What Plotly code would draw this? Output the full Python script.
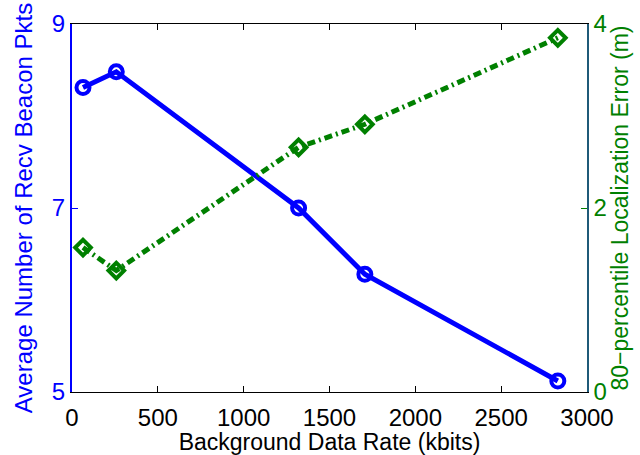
import plotly.graph_objects as go

rate = [64, 258, 1320, 1706, 2830]
beacon_pkts = [8.31, 8.48, 7.0, 6.28, 5.12]
loc_error = [1.57, 1.32, 2.66, 2.91, 3.85]

x_ticks = [0, 500, 1000, 1500, 2000, 2500, 3000]
y1_ticks = [5, 7, 9]
y2_ticks = [0, 2, 4]

BLUE = "#0000ff"
GREEN = "#008000"
FONT = "Liberation Sans, Arial, sans-serif"

fig = go.Figure()
fig.add_trace(go.Scatter(
    x=rate, y=beacon_pkts, mode="lines+markers",
    line=dict(color=BLUE, width=5),
    marker=dict(symbol="circle-open", size=13, color=BLUE, line=dict(width=4, color=BLUE)),
    yaxis="y", showlegend=False,
))
fig.add_trace(go.Scatter(
    x=rate, y=loc_error, mode="lines+markers",
    line=dict(color=GREEN, width=5, dash="8px,4px,2px,4px"),
    marker=dict(symbol="diamond-open", size=12, color=GREEN, line=dict(width=4, color=GREEN)),
    yaxis="y2", showlegend=False,
))

fig.update_layout(
    width=640, height=455,
    margin=dict(l=72, r=53, t=24, b=63),
    paper_bgcolor="white", plot_bgcolor="white",
    font=dict(family=FONT, size=24, color="black"),
    xaxis=dict(
        range=[0, 3000], tickvals=x_ticks, ticktext=[str(v) for v in x_ticks],
        showgrid=False, zeroline=False, automargin=False,
        showline=True, linecolor="black", linewidth=1, mirror="ticks",
        ticks="inside", ticklen=6, tickcolor="black", ticklabelstandoff=4,
        tickfont=dict(size=24, color="black"),
        title=dict(text="Background Data Rate (kbits)", font=dict(size=23, color="black"), standoff=0),
    ),
    yaxis=dict(
        range=[5, 9], tickvals=y1_ticks, ticktext=[str(v) for v in y1_ticks],
        showgrid=False, zeroline=False, automargin=False,
        showline=True, linecolor=BLUE, linewidth=2,
        ticks="inside", ticklen=6, tickcolor=BLUE,
        tickfont=dict(size=24, color=BLUE),
        title=dict(text="Average Number of Recv Beacon Pkts", font=dict(size=24, color=BLUE), standoff=12),
    ),
    yaxis2=dict(
        range=[0, 4], tickvals=y2_ticks, ticktext=[str(v) for v in y2_ticks],
        overlaying="y", side="right", automargin=False,
        showgrid=False, zeroline=False,
        showline=True, linecolor="#1f5a78", linewidth=1.5,
        ticks="inside", ticklen=6, tickcolor=GREEN,
        tickfont=dict(size=24, color=GREEN),
        title=dict(text="80\u2212percentile Localization Error (m)", font=dict(size=23, color=GREEN), standoff=6),
    ),
)

fig.write_html("out.html")
